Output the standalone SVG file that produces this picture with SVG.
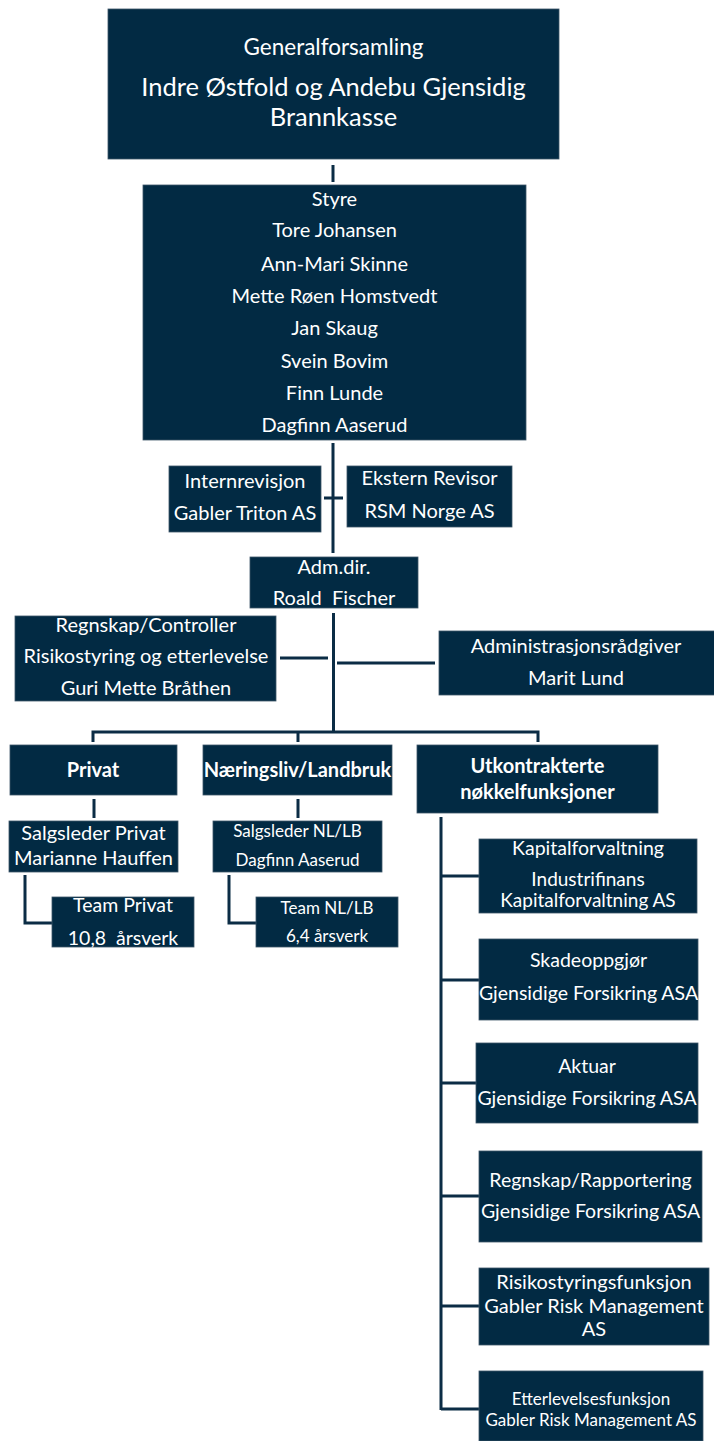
<svg xmlns="http://www.w3.org/2000/svg" width="714" height="1441" viewBox="0 0 714 1441">
<style>
.box{fill:#022a43;stroke:#3d5568;stroke-width:0.8}
.t{font-family:Lato,"Liberation Sans",sans-serif;fill:#ffffff;text-anchor:middle;font-size:20px}
.b{font-weight:bold;font-size:20px}
.s{font-size:17px}
.m{font-size:19.5px}
.c{fill:none;stroke:#0b2c45;stroke-width:3}
</style>
<rect width="714" height="1441" fill="#ffffff"/>
<g id="connectors">
<path class="c" d="M333 165V182"/>
<path class="c" d="M333 443V553M324 498H343"/>
<path class="c" d="M333.5 613V732M280 658H328M337 663H435"/>
<path class="c" d="M93 742V732H538V742M298 732V742"/>
<path class="c" d="M94 799V818M298 799V818"/>
<path class="c" d="M25 875V923H52M229 875V923H256"/>
<path class="c" d="M441 817V1410M441 876H479M441 980H479M441 1083H476M441 1196H479M441 1306H479M441 1409H479"/>
</g>
<g id="generalforsamling"><rect class="box" x="108" y="9" width="451" height="150"/>
<text class="t" x="333.5" y="55" style="font-size:22.5px">Generalforsamling</text>
<text class="t" x="333.5" y="96" style="font-size:25.5px">Indre Østfold og Andebu Gjensidig</text>
<text class="t" x="333.5" y="126" style="font-size:25.5px">Brannkasse</text></g>
<g id="styre"><rect class="box" x="143" y="185" width="383" height="255"/>
<text class="t" x="334.5" y="206">Styre</text>
<text class="t" x="334.5" y="237">Tore Johansen</text>
<text class="t" x="334.5" y="271">Ann-Mari Skinne</text>
<text class="t" x="334.5" y="303">Mette Røen Homstvedt</text>
<text class="t" x="334.5" y="335">Jan Skaug</text>
<text class="t" x="334.5" y="368">Svein Bovim</text>
<text class="t" x="334.5" y="400">Finn Lunde</text>
<text class="t" x="334.5" y="432">Dagfinn Aaserud</text></g>
<g id="internrevisjon"><rect class="box" x="169" y="466" width="152" height="66"/>
<text class="t" x="245" y="488">Internrevisjon</text>
<text class="t" x="245" y="520">Gabler Triton AS</text></g>
<g id="ekstern"><rect class="box" x="347" y="466" width="165" height="61"/>
<text class="t" x="429.5" y="485">Ekstern Revisor</text>
<text class="t" x="429.5" y="518">RSM Norge AS</text></g>
<g id="admdir"><rect class="box" x="250" y="557" width="168" height="51"/>
<text class="t" x="334" y="574">Adm.dir.</text>
<text class="t" x="334" y="605" xml:space="preserve">Roald  Fischer</text></g>
<g id="regnskap"><rect class="box" x="15" y="616" width="261" height="85"/>
<text class="t" x="146" y="632">Regnskap/Controller</text>
<text class="t" x="146" y="663">Risikostyring og etterlevelse</text>
<text class="t" x="146" y="695">Guri Mette Bråthen</text></g>
<g id="administrasjon"><rect class="box" x="439" y="631" width="276" height="64"/>
<text class="t" x="576" y="653">Administrasjonsrådgiver</text>
<text class="t" x="576" y="685">Marit Lund</text></g>
<g id="privat"><rect class="box" x="10" y="745" width="167" height="50"/>
<text class="t b" x="93" y="777">Privat</text></g>
<g id="naeringsliv"><rect class="box" x="203" y="745" width="189" height="50"/>
<text class="t b" x="297.5" y="777">Næringsliv/Landbruk</text></g>
<g id="utkontrakterte"><rect class="box" x="417" y="745" width="241" height="68"/>
<text class="t b" x="537.5" y="773">Utkontrakterte</text>
<text class="t b" x="537.5" y="799">nøkkelfunksjoner</text></g>
<g id="salgprivat"><rect class="box" x="9" y="821" width="169" height="51"/>
<text class="t" x="93.5" y="840">Salgsleder Privat</text>
<text class="t" x="93.5" y="865">Marianne Hauffen</text></g>
<g id="salgnl"><rect class="box" x="213" y="821" width="169" height="51"/>
<text class="t s" x="297.5" y="837">Salgsleder NL/LB</text>
<text class="t s" x="297.5" y="866">Dagfinn Aaserud</text></g>
<g id="teamprivat"><rect class="box" x="52" y="897" width="142" height="50"/>
<text class="t m" x="123" y="912">Team Privat</text>
<text class="t m" x="123" y="945" xml:space="preserve">10,8  årsverk</text></g>
<g id="teamnl"><rect class="box" x="256" y="897" width="142" height="50"/>
<text class="t s" x="327" y="914">Team NL/LB</text>
<text class="t s" x="327" y="942">6,4 årsverk</text></g>
<g id="kapital"><rect class="box" x="479" y="839" width="218" height="74"/>
<text class="t m" x="588" y="855">Kapitalforvaltning</text>
<text class="t" x="588" y="886" style="font-size:19px">Industrifinans</text>
<text class="t" x="588" y="907" style="font-size:19px">Kapitalforvaltning AS</text></g>
<g id="skade"><rect class="box" x="479" y="939" width="219" height="81"/>
<text class="t m" x="588.5" y="967">Skadeoppgjør</text>
<text class="t m" x="588.5" y="1000">Gjensidige Forsikring ASA</text></g>
<g id="aktuar"><rect class="box" x="476" y="1043" width="222" height="80"/>
<text class="t m" x="587" y="1073">Aktuar</text>
<text class="t m" x="587" y="1105">Gjensidige Forsikring ASA</text></g>
<g id="regnrapp"><rect class="box" x="479" y="1151" width="223" height="91"/>
<text class="t m" x="590.5" y="1187">Regnskap/Rapportering</text>
<text class="t m" x="590.5" y="1218">Gjensidige Forsikring ASA</text></g>
<g id="risiko"><rect class="box" x="479" y="1268" width="230" height="77"/>
<text class="t" x="594" y="1289">Risikostyringsfunksjon</text>
<text class="t" x="594" y="1313">Gabler Risk Management</text>
<text class="t" x="594" y="1336">AS</text></g>
<g id="etterlevelse"><rect class="box" x="479" y="1371" width="224" height="70"/>
<text class="t s" x="591" y="1405">Etterlevelsesfunksjon</text>
<text class="t s" x="591" y="1426">Gabler Risk Management AS</text></g>
</svg>
